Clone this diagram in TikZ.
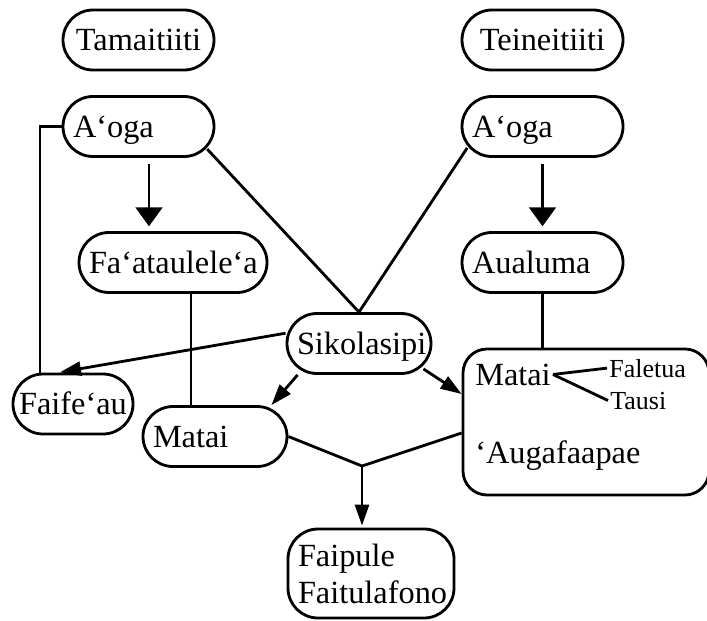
\documentclass[tikz,border=0pt]{standalone}
\usepackage{fontspec}
\setmainfont{Liberation Serif}
\usepackage{tikz}
\usetikzlibrary{positioning,arrows.meta}

\newcommand{\mainsize}{\fontsize{23pt}{26.3pt}\selectfont}
\newcommand{\smallsize}{\fontsize{18.5pt}{22pt}\selectfont}

\begin{document}
\begin{tikzpicture}
	\tikzset{
		pill/.style={draw,line width=2pt,rounded corners=0.75cm,minimum height=1.5cm,
			inner xsep=0.25cm,inner ysep=0pt,text height=15.2pt,text depth=0pt,font=\mainsize},
		word/.style={inner xsep=0.05cm,inner ysep=0pt},
		link/.style={line width=2pt},
		bigarrow/.style={link,-{Triangle[length=13.5pt,width=19pt]}},
		arrow/.style={link,-{Triangle[length=15pt,width=10pt]}}
	}
	\useasboundingbox (0,0) rectangle (17.675,-15.5);

	%% Top row
	\node[pill,text width=3.275cm,align=center] (tama) at (3.4625,-1.0) {Tamaitiiti};
	\node[pill,text width=3.525cm,align=center] (tein) at (13.5625,-1.0) {Teineitiiti};

	%% Schools and groups
	\node[pill,text width=3.275cm,align=left] (aogaL) at (3.4625,-3.1625) {A‘oga};
	\node[pill,text width=3.525cm,align=left] (aogaR) at (13.5625,-3.1625) {A‘oga};
	\node[pill,text width=4.2cm,align=center] (faat) at (4.325,-6.5625) {Fa‘ataulele‘a};
	\node[pill,text width=3.525cm,align=left] (aual) at (13.5625,-6.5625) {Aualuma};
	\node[pill,text width=3.1cm,align=center] (siko) at (8.975,-8.5875) {Sikolasipi};
	\node[pill,text width=2.8cm,inner xsep=0.1cm,align=center] (faif) at (1.825,-10.1) {Faife‘au};
	\node[pill,text width=3.1cm,align=left] (mataiL) at (5.375,-10.9125) {Matai};
	\node[pill,text width=3.65cm,align=left,minimum height=2.225cm,text height=,text depth=] (faip) at (9.275,-14.3375) {Faipule\\Faitulafono};

	%% Big box on the right
	\node[pill,rounded corners=0.6cm,minimum width=6.15cm,minimum height=3.65cm] (matR) at (14.65,-10.55) {};
	\node[word,anchor=base west,font=\mainsize] (mtx) at (11.825,-9.625) {Matai};
	\node[word,anchor=base west,font=\smallsize] (fale) at (15.175,-9.425) {Faletua};
	\node[word,anchor=base west,font=\smallsize] (taus) at (15.2,-10.225) {Tausi};
	\node[word,anchor=base west,font=\mainsize] (auga) at (11.825,-11.575) {‘Augafaapae};
	\coordinate (jn) at (9.05,-11.65);

	%% Connectors
	\draw[bigarrow,shorten <=0.15cm,shorten >=0.12cm] ([xshift=0.2625cm]aogaL.south) -- ([xshift=0.2625cm]aogaL.south |- faat.north);
	\draw[bigarrow,shorten <=0.15cm,shorten >=0.12cm] (aogaR.south) -- (aual.north);
	\draw[link,shorten >=-0.3cm] (siko.north) -- (aogaL.south east);
	\draw[link,shorten >=-0.3cm] (siko.north) -- (aogaR.south west);
	\draw[link] ([xshift=0.45cm]faat.south) -- ([xshift=0.45cm]faat.south |- mataiL.north);
	\draw[link] (aual.south) -- (aual.south |- matR.north);
	\draw[link] (aogaL.west) -| ([xshift=-0.825cm]faif.north);
	\draw[arrow,shorten >=0.05cm] (siko.172) -- ([xshift=-0.375cm]faif.north);
	\draw[arrow] ([xshift=0.3cm]siko.south west) -- ([xshift=-0.425cm]mataiL.north east);
	\draw[arrow] ([xshift=-0.225cm,yshift=0.15cm]siko.south east) -- ([yshift=0.7cm]matR.west);
	\draw[link] (mataiL.east) -- (jn) -- ([yshift=-0.275cm]matR.west);
	\draw[arrow,shorten >=0.05cm] (jn) -- (jn |- faip.north);
	\draw[link] (mtx.east) -- (fale.west);
	\draw[link] (mtx.east) -- (taus.west);
\end{tikzpicture}
\end{document}
